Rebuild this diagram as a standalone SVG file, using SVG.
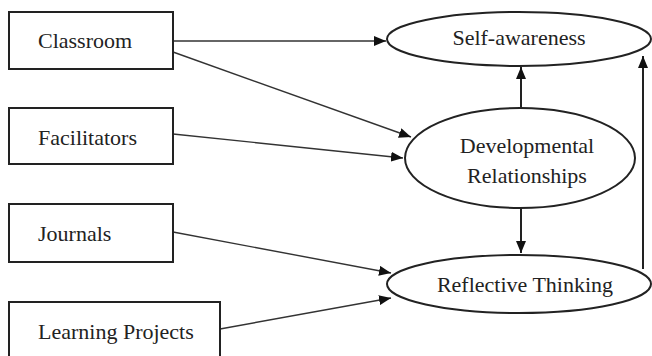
<svg xmlns="http://www.w3.org/2000/svg" width="652" height="356" viewBox="0 0 652 356">
<style>
.box{fill:#fff;stroke:#222;stroke-width:2}
.ell{fill:#fff;stroke:#222;stroke-width:2}
.t{font-family:"Liberation Serif","Times New Roman",serif;font-size:22px;fill:#222}
.c{fill:none;stroke:#333;stroke-width:1.4}
.v{fill:none;stroke:#222;stroke-width:2}
</style>
<defs>
<marker id="ah" viewBox="0 0 12 10" refX="12" refY="5" markerWidth="12" markerHeight="10" markerUnits="userSpaceOnUse" orient="auto">
<path d="M0,0 L12,5 L0,10 Z" fill="#111"/>
</marker>
</defs>
<rect width="652" height="356" fill="#fff"/>
<g id="connectors">
<line class="c" x1="173" y1="41" x2="386" y2="41" marker-end="url(#ah)"/>
<line class="c" x1="173" y1="52" x2="411" y2="137" marker-end="url(#ah)"/>
<line class="c" x1="173" y1="134" x2="403" y2="158" marker-end="url(#ah)"/>
<line class="v" x1="521" y1="108" x2="521" y2="67" marker-end="url(#ah)"/>
<line class="v" x1="521" y1="209" x2="521" y2="253" marker-end="url(#ah)"/>
<line class="v" x1="643" y1="269" x2="643" y2="56" marker-end="url(#ah)"/>
<line class="c" x1="173" y1="232" x2="391" y2="273" marker-end="url(#ah)"/>
<line class="c" x1="220" y1="329" x2="391" y2="298" marker-end="url(#ah)"/>
</g>
<g id="classroom"><rect class="box" x="9" y="12" width="164" height="57"/><text class="t" x="38" y="48">Classroom</text></g>
<g id="facilitators"><rect class="box" x="9" y="108" width="164" height="56"/><text class="t" x="38" y="145">Facilitators</text></g>
<g id="journals"><rect class="box" x="9" y="204" width="164" height="58"/><text class="t" x="38" y="241">Journals</text></g>
<g id="learning-projects"><rect class="box" x="9" y="302" width="211" height="70"/><text class="t" x="38" y="339">Learning Projects</text></g>
<g id="self-awareness"><ellipse class="ell" cx="519" cy="39" rx="132" ry="27"/><text class="t" x="519" y="45" text-anchor="middle">Self-awareness</text></g>
<g id="developmental-relationships"><ellipse class="ell" cx="520" cy="158" rx="115" ry="50"/><text class="t" x="527" y="153" text-anchor="middle">Developmental</text><text class="t" x="527" y="183" text-anchor="middle">Relationships</text></g>
<g id="reflective-thinking"><ellipse class="ell" cx="519" cy="284" rx="132" ry="29"/><text class="t" x="525" y="292" text-anchor="middle">Reflective Thinking</text></g>
</svg>
